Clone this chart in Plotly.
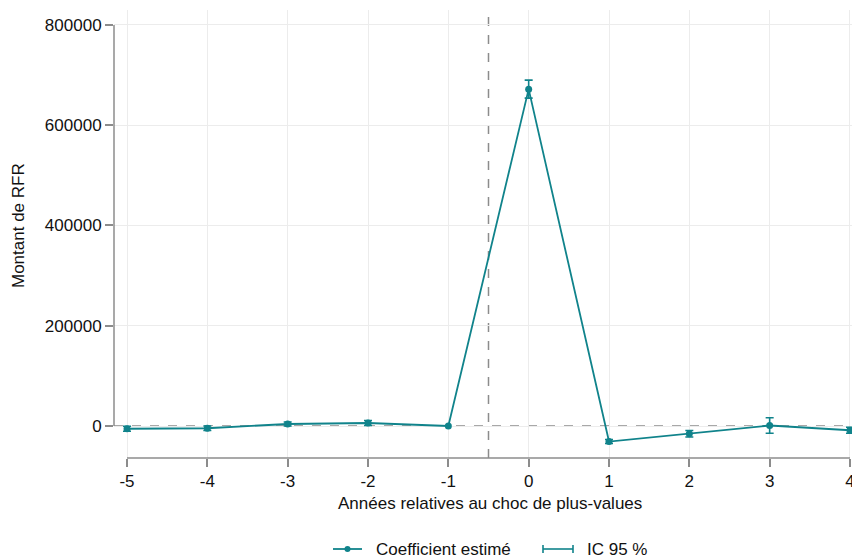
import plotly.graph_objects as go

# event-study coefficients
years = [-5, -4, -3, -2, -1, 0, 1, 2, 3, 4]
coef = [-5500, -4500, 4000, 6000, 0, 672000, -31000, -15500, 1000, -8500]
ci_half = [5000, 4500, 4000, 5000, 0, 18000, 4000, 6500, 15500, 6000]

y_ticks = [0, 200000, 400000, 600000, 800000]
x_title = "Années relatives au choc de plus-values"
y_title = "Montant de RFR"
legend_labels = ["Coefficient estimé", "IC 95 %"]

teal = "#10838b"
grey = "#8c8c8c"
font = "Liberation Sans, Arial, sans-serif"
fs = 17

fig = go.Figure()

# confidence intervals (skip the reference year)
ci_x = [x for x, h in zip(years, ci_half) if h > 0]
ci_y = [c for c, h in zip(coef, ci_half) if h > 0]
ci_e = [h for h in ci_half if h > 0]
fig.add_trace(go.Scatter(x=ci_x, y=ci_y, mode="markers",
                         marker=dict(size=0.1, color=teal),
                         error_y=dict(type="data", array=ci_e, visible=True,
                                      color=teal, thickness=1.6, width=4),
                         showlegend=False, hoverinfo="skip", cliponaxis=False))

fig.add_trace(go.Scatter(x=years, y=coef, mode="lines+markers",
                         line=dict(color=teal, width=1.8),
                         marker=dict(color=teal, size=7),
                         showlegend=False))

# reference lines
fig.add_shape(type="line", xref="paper", yref="y", x0=0, x1=1, y0=0, y1=0,
              line=dict(color=grey, width=1.5, dash="dash"), layer="below")
fig.add_shape(type="line", xref="x", yref="paper", x0=-0.5, x1=-0.5, y0=0, y1=1,
              line=dict(color=grey, width=1.5, dash="dash"), layer="below")

# stata-style axis lines spanning only the tick range
fig.add_shape(type="line", xref="paper", yref="y", x0=0, x1=0,
              y0=y_ticks[0], y1=y_ticks[-1], line=dict(color=grey, width=1.5))
fig.add_shape(type="line", xref="x", yref="paper", x0=years[0], x1=years[-1],
              y0=0, y1=0, line=dict(color=grey, width=1.5))

# pixel helpers (screen coords) for the legend / titles
W, H = 738.0, 448.0
def px(x):
    return (x - 114) / W
def py(y):
    return (458 - y) / H

fig.add_annotation(xref="paper", yref="paper", x=px(490), y=py(503), text=x_title,
                   showarrow=False, xanchor="center", yanchor="middle",
                   font=dict(size=fs, color="#111", family=font))
fig.add_annotation(xref="paper", yref="paper", x=px(18), y=py(225), text=y_title,
                   textangle=-90, showarrow=False, xanchor="center", yanchor="middle",
                   font=dict(size=fs, color="#111", family=font))

ly = py(549)
fig.add_shape(type="line", xref="paper", yref="paper", x0=px(333), x1=px(362),
              y0=ly, y1=ly, line=dict(color=teal, width=1.8))
fig.add_shape(type="circle", xref="paper", yref="paper",
              x0=px(344.5), x1=px(350.5), y0=py(552), y1=py(546),
              fillcolor=teal, line=dict(color=teal, width=0))
fig.add_annotation(xref="paper", yref="paper", x=px(374), y=ly, text=legend_labels[0],
                   showarrow=False, xanchor="left", yanchor="middle",
                   font=dict(size=fs, color="#111", family=font))
fig.add_shape(type="line", xref="paper", yref="paper", x0=px(543), x1=px(573),
              y0=ly, y1=ly, line=dict(color=teal, width=1.6))
for xx in (543, 573):
    fig.add_shape(type="line", xref="paper", yref="paper", x0=px(xx), x1=px(xx),
                  y0=py(553), y1=py(545), line=dict(color=teal, width=1.6))
fig.add_annotation(xref="paper", yref="paper", x=px(585), y=ly, text=legend_labels[1],
                   showarrow=False, xanchor="left", yanchor="middle",
                   font=dict(size=fs, color="#111", family=font))

fig.update_layout(
    width=852, height=557,
    margin=dict(l=114, r=0, t=10, b=99, autoexpand=False),
    paper_bgcolor="white", plot_bgcolor="white",
    font=dict(family=font, size=fs, color="#111"),
    showlegend=False,
    xaxis=dict(range=[-5.162, 4.025], tickvals=years, ticktext=[str(v) for v in years],
               showgrid=True, gridcolor="#ececec", gridwidth=1, zeroline=False,
               showline=False, ticks="outside", ticklen=8, tickcolor=grey, tickwidth=1.5,
               ticklabeloverflow="allow", automargin=False),
    yaxis=dict(range=[-63840, 829900], tickvals=y_ticks, ticktext=[str(v) for v in y_ticks],
               showgrid=True, gridcolor="#ececec", gridwidth=1, zeroline=False,
               showline=False, ticks="outside", ticklen=8, tickcolor=grey, tickwidth=1.5,
               automargin=False),
)

# no page margin so the figure fills the window exactly
fig.write_html("out.html", config={"displayModeBar": False},
               post_script="document.body.style.margin='0';document.body.style.overflow='hidden';")
